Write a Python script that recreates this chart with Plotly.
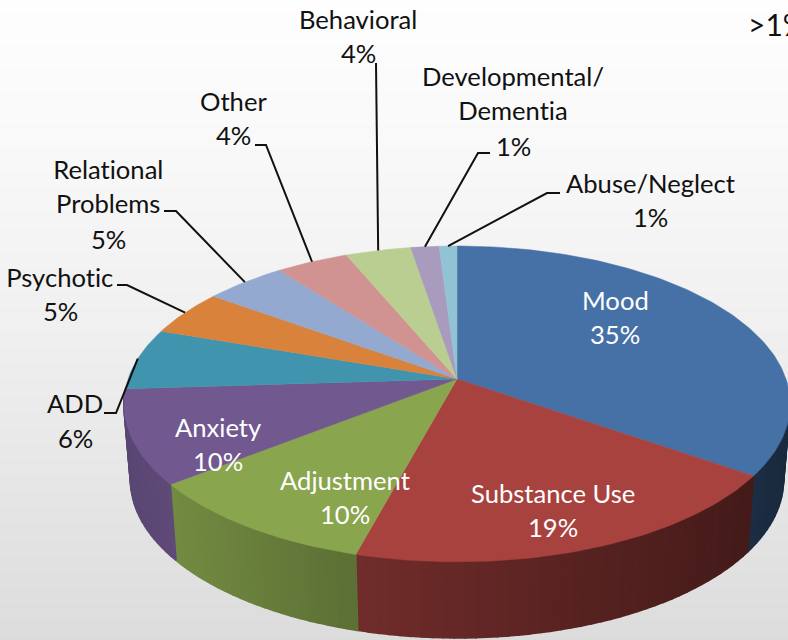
import numpy as np
import plotly.graph_objects as go

# ---- data ----
categories = ["Mood", "Substance Use", "Adjustment", "Anxiety", "ADD", "Psychotic",
              "Relational Problems", "Other", "Behavioral", "Developmental/ Dementia", "Abuse/Neglect"]
slice_values = [34.7, 19.5, 10.2, 9.6, 6.3, 4.7, 4.6, 4.1, 3.7, 1.6, 1.0]
percent_labels = ["35%", "19%", "10%", "10%", "6%", "5%", "5%", "4%", "4%", "1%", "1%"]

# ---- styles and layout ----
colors = [(70, 113, 167), (167, 66, 63), (137, 165, 78), (113, 88, 143), (65, 148, 174),
          (216, 130, 60), (147, 169, 207), (209, 147, 146), (186, 206, 145),
          (169, 155, 189), (146, 195, 212)]
label_lines = [["Mood"], ["Substance Use"], ["Adjustment"], ["Anxiety"], ["ADD"], ["Psychotic"],
               ["Relational", "Problems"], ["Other"], ["Behavioral"],
               ["Developmental/", "Dementia"], ["Abuse/Neglect"]]
label_x = [615, 553, 345, 218, 75, 60, 108, 233, 358, 513, 650]
label_y = [300, 493, 480, 427, 403, 277, 169, 101, 19, 76, 183]
percent_dy = [0, 0, 0, 0, 1, 0, 2, 0, 0, 2, 0]
label_color = ["white"] * 4 + ["#111111"] * 7
# leader elbows (label end, elbow), None for slices labelled inside
leaders = [None, None, None, None,
           [(104, 413), (116, 413)], [(117, 285), (127, 285)], [(164, 211), (176, 211)],
           [(255, 145), (266, 145)], [(376, 63), (376, 63)], [(490, 153), (478, 153)],
           [(560, 193), (547, 193)]]
FONT = "Lato"
FS = 25.6
LH = 34

CX, CY = 457, 379
AP, BP, K = 329.0, 154.0, 0.158   # projected disc
SX, DEPTH = 0.98, 76


def project(frac):
    t = 2 * np.pi * np.asarray(frac, dtype=float)
    u, v = np.sin(t), np.cos(t)
    w = 1 + K * v
    return AP * u / w, -BP * v / w


def rgb(c, f=1.0):
    return "rgb(%d,%d,%d)" % tuple(int(round(x * f)) for x in c)


def shade(x):
    return float(np.interp(x, [124, 170, 357, 750, 790], [.80, .84, .67, .41, .37]))


fig = go.Figure()

# background gradient
rows = np.arange(0, 641, 8)
fig.add_trace(go.Heatmap(
    x=[0, 788], y=rows, z=[[r, r] for r in rows], showscale=False, hoverinfo="skip", zmin=0, zmax=640,
    colorscale=[[0, "#fefefe"], [0.25, "#f8f8f8"], [0.5, "#f0f0f0"], [0.75, "#e6e6e6"], [1, "#dcdcdc"]],
    xgap=0, ygap=0))

total = sum(slice_values)
edges = np.concatenate([[0], np.cumsum(slice_values)]) / total

# side wall strips
STEP = 1 / 220
for i, col in enumerate(colors):
    a, b = edges[i], edges[i + 1]
    n = max(1, int(np.ceil((b - a) / STEP)))
    fr = np.linspace(a, b, n + 1)
    for f0, f1 in zip(fr[:-1], fr[1:]):
        if np.cos(2 * np.pi * (f0 + f1) / 2) > -0.06:
            continue
        X, Y = project(np.array([f0, f1]))
        xs = [CX + X[0], CX + X[1], CX + SX * X[1], CX + SX * X[0], CX + X[0]]
        ys = [CY + Y[0], CY + Y[1], CY + Y[1] + DEPTH, CY + Y[0] + DEPTH, CY + Y[0]]
        c = rgb(col, shade(CX + X.mean()))
        fig.add_trace(go.Scatter(x=xs, y=ys, mode="lines", fill="toself", fillcolor=c,
                                 line=dict(color=c, width=1.6), hoverinfo="skip", showlegend=False))

# top face
for i, col in enumerate(colors):
    fr = np.linspace(edges[i], edges[i + 1], max(4, int((edges[i + 1] - edges[i]) * 360)))
    X, Y = project(fr)
    xs = np.concatenate([[CX], CX + X, [CX]])
    ys = np.concatenate([[CY], CY + Y, [CY]])
    fig.add_trace(go.Scatter(x=xs, y=ys, mode="lines", fill="toself", fillcolor=rgb(col),
                             line=dict(color=rgb(col), width=0.5), name=categories[i],
                             hoverinfo="skip", showlegend=False))

# leader lines from slice middle on the rim
for i, ld in enumerate(leaders):
    if ld is None:
        continue
    X, Y = project((edges[i] + edges[i + 1]) / 2)
    fig.add_trace(go.Scatter(x=[ld[0][0], ld[1][0], CX + float(X)],
                             y=[ld[0][1], ld[1][1], CY + float(Y)],
                             mode="lines", line=dict(color="#111111", width=2),
                             hoverinfo="skip", showlegend=False))

# labels: one annotation per text line
for i, lines in enumerate(label_lines):
    all_lines = lines + [percent_labels[i]]
    for j, txt in enumerate(all_lines):
        dy = percent_dy[i] if j == len(all_lines) - 1 else 0
        fig.add_annotation(x=label_x[i], y=label_y[i] + j * LH + dy, text=txt, showarrow=False,
                           xanchor="center", yanchor="middle", xref="x", yref="y",
                           font=dict(family=FONT, size=FS, color=label_color[i]))
fig.add_annotation(x=746, y=24, text=">1%", showarrow=False, xanchor="left", yanchor="middle",
                   xref="x", yref="y", font=dict(family=FONT, size=30, color="#111111"))

fig.update_layout(
    width=788, height=640, margin=dict(l=0, r=0, t=0, b=0),
    paper_bgcolor="#f0f0f0", plot_bgcolor="#f0f0f0", showlegend=False,
    xaxis=dict(range=[0, 788], visible=False, fixedrange=True),
    yaxis=dict(range=[640, 0], visible=False, fixedrange=True),
)
fig.write_html("out.html", config={"displayModeBar": False},
               post_script="document.body.style.margin='0';document.body.style.overflow='hidden';"
                           "var s=document.createElement('style');"
                           "s.textContent='svg text{font-variant-ligatures:none;font-feature-settings:\"liga\" 0;}';"
                           "document.head.appendChild(s);")
